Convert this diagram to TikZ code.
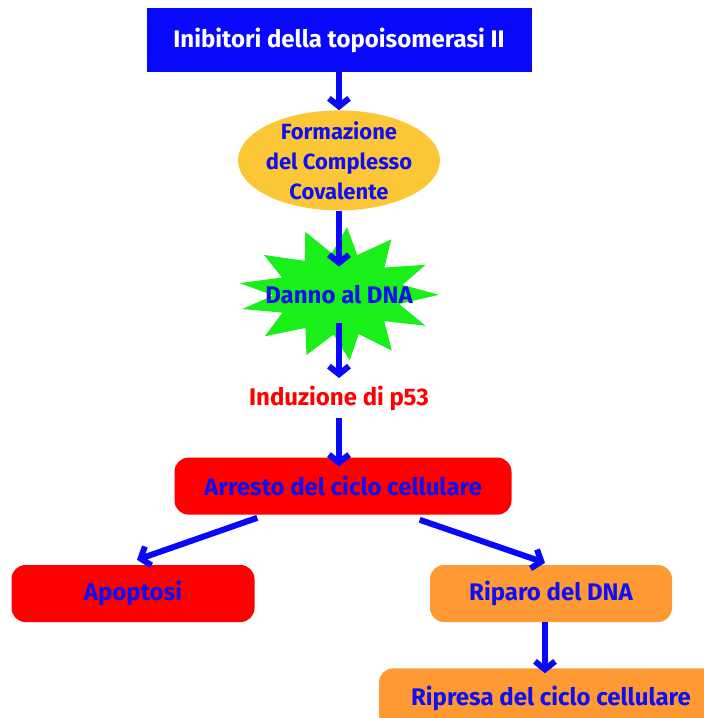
\documentclass[tikz,border=0pt]{standalone}
\usepackage{fontspec}
\setmainfont{Fira Sans}
\usetikzlibrary{shapes,arrows.meta,positioning,calc,backgrounds}

\definecolor{topblue}{RGB}{8,8,250}
\definecolor{txtblue}{RGB}{15,15,240}
\definecolor{gold}{RGB}{252,199,55}
\definecolor{stargreen}{RGB}{25,240,25}
\definecolor{cellred}{RGB}{255,0,0}
\definecolor{repair}{RGB}{255,153,51}

\begin{document}
\begin{tikzpicture}[
    x=1pt, y=-1pt,
    testo/.style={font=\bfseries\fontsize{24}{30}\selectfont},
    titolo/.style={testo, rectangle, fill=topblue, text=white, minimum width=385pt, minimum height=64pt},
    fase/.style={testo, rectangle, rounded corners=14pt, text=txtblue, minimum height=57pt, inner sep=0pt},
    freccia/.style={-{Straight Barb[length=8pt,width=20pt]}, line width=6pt, draw=topblue}
]
    \useasboundingbox (0,0) rectangle (704,718);
    \clip (0,0) rectangle (704,718);

    \node[titolo] (inibitori) at (339,40) {Inibitori della topoisomerasi II};
    \node[testo, font=\bfseries\fontsize{22}{30}\selectfont, ellipse, fill=gold, text=txtblue, align=center, minimum width=202pt, minimum height=100pt, inner xsep=-3pt, inner ysep=-10pt, below=38pt of inibitori] (complesso) {Formazione\\del Complesso\\Covalente};
    \node[testo, text=txtblue, minimum height=56pt, inner sep=0pt, below=56pt of complesso] (danno) {Danno al DNA};
    \node[testo, text=cellred, minimum height=40pt, inner sep=0pt, below=55pt of danno] (p53) {Induzione di p53};
    \node[fase, fill=cellred, minimum width=337pt, below=39pt of p53, xshift=4pt] (arresto) {Arresto del ciclo cellulare};
    \node[fase, fill=cellred, minimum width=243pt, below=50pt of arresto, xshift=-210pt] (apoptosi) {Apoptosi};
    \node[fase, fill=repair, minimum width=242pt, below=50pt of arresto, xshift=208pt] (riparo) {Riparo del DNA};
    \node[fase, fill=repair, minimum width=344pt, minimum height=60pt, below=46pt of riparo] (ripresa) {Ripresa del ciclo cellulare};

    % star behind the DNA damage text
    \begin{scope}[on background layer, shift={(danno.center)}]
        \fill[stargreen] (0:{100} and {60})
            \foreach \a/\rx/\ry in {14/62/38, 28/98/66, 41/60/40, 55/92/68, 69/55/42, 83/88/66, 96/52/40, 110/95/64, 124/60/40, 138/100/62, 152/64/38, 165/100/55, 179/66/34, 193/102/52, 207/64/38, 220/98/62, 234/58/42, 248/90/68, 262/52/42, 275/92/68, 289/56/42, 303/96/66, 317/62/40, 330/100/60, 344/66/36}
            { -- (\a:{\rx} and {\ry}) } -- cycle;
    \end{scope}

    \draw[freccia] (inibitori) -- (complesso);
    \draw[freccia] (complesso) -- (danno);
    \draw[freccia] (danno) -- (p53);
    \draw[freccia, shorten >=-9pt] (p53) -- (p53 |- arresto.north);
    \draw[freccia] ([xshift=83pt,yshift=-3pt]arresto.south west) -- ([xshift=4pt,yshift=5pt]apoptosi.north);
    \draw[freccia] ([xshift=-92pt,yshift=-5pt]arresto.south east) -- ([xshift=-6pt,yshift=2pt]riparo.north);
    \draw[freccia] ([xshift=-6pt]riparo.south) -- ([xshift=-6pt,yshift=-5pt]ripresa.north);
\end{tikzpicture}
\end{document}
